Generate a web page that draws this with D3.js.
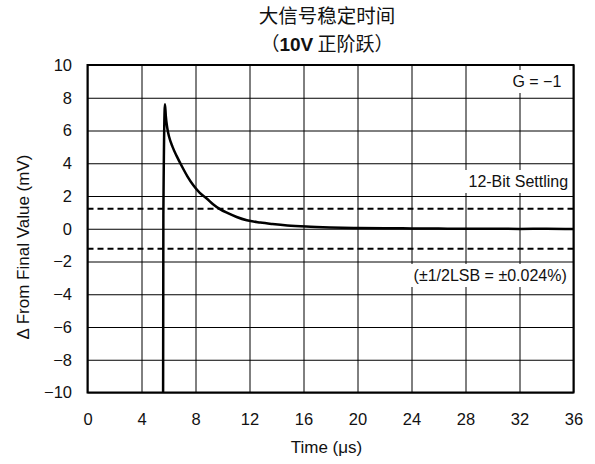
<!DOCTYPE html>
<html>
<head>
<meta charset="utf-8">
<script src="https://cdn.jsdelivr.net/npm/d3@7"></script>
<style>
  html, body { margin: 0; padding: 0; background: #fff; }
  svg { display: block; }
  text { font-family: "Liberation Sans", Arial, Helvetica, sans-serif; fill: #111; }
  .cjk { font-family: "Noto Sans CJK SC", "Liberation Sans", sans-serif; }
</style>
</head>
<body>
<script>
// ---- data ----
const titleLine1 = "大信号稳定时间";
const titleLine2 = ["（", "10V", " 正阶跃）"];
const xLabel = "Time (μs)";
const yLabel = "Δ From Final Value (mV)";
const xTicks = [0, 4, 8, 12, 16, 20, 24, 28, 32, 36];
const yTicks = [-10, -8, -6, -4, -2, 0, 2, 4, 6, 8, 10];
const timeUs = [5.6, 5.62, 5.74, 5.8, 5.9, 6.05, 6.3, 6.6, 7.0, 7.4, 7.84, 8.3, 8.83, 9.3, 9.81, 10.4, 11.05, 11.8, 12.8, 13.7, 14.8, 16.2, 18, 20, 22, 24, 26, 28, 30, 32, 34, 36];
const deltaMv = [-10, 0.8, 7.6, 6.9, 6.2, 5.6, 5.0, 4.45, 3.8, 3.2, 2.65, 2.2, 1.85, 1.5, 1.2, 0.95, 0.72, 0.52, 0.38, 0.29, 0.2, 0.13, 0.08, 0.05, 0.03, 0.02, 0.01, 0.0, 0.0, -0.01, 0.0, -0.02];
const settleLimits = [1.22, -1.22];
const annoGain = "G = −1";
const annoSettle = "12-Bit Settling";
const annoLsb = "(±1/2LSB = ±0.024%)";

// ---- layout ----
const W = 595, H = 464;
const m = { left: 87.5, right: 21.5, top: 65, bottom: 71.5 };
const iw = W - m.left - m.right, ih = H - m.top - m.bottom;

const svg = d3.select("body").append("svg").attr("width", W).attr("height", H);
const g = svg.append("g").attr("transform", `translate(${m.left},${m.top})`);

const x = d3.scaleLinear().domain([0, 36]).range([0, iw]);
const y = d3.scaleLinear().domain([-10, 10]).range([ih, 0]);

// grid
const gx = g.append("g").attr("transform", `translate(0,${ih})`)
  .call(d3.axisBottom(x).tickValues(xTicks).tickSize(-ih).tickPadding(0));
gx.select(".domain").remove();
gx.selectAll("line").attr("stroke", "#000").attr("stroke-width", 1);
gx.selectAll("text").attr("dy", null).attr("y", 32).attr("font-size", 16.5).style("fill", "#111");

const gy = g.append("g")
  .call(d3.axisLeft(y).tickValues(yTicks).tickSize(-iw).tickPadding(15.5));
gy.select(".domain").remove();
gy.selectAll("line").attr("stroke", "#000").attr("stroke-width", 1);
gy.selectAll("text").attr("font-size", 16.5).style("fill", "#111");

// annotation boxes (white background)
function anno(txt, xr, yb) {
  const t = g.append("text").attr("x", xr).attr("y", yb).attr("text-anchor", "end")
    .attr("font-size", 16).text(txt);
  const bb = t.node().getBBox();
  g.insert("rect", () => t.node())
    .attr("x", bb.x - 4).attr("y", bb.y - 3).attr("width", bb.width + 8).attr("height", bb.height + 6)
    .attr("fill", "#fff");
}
anno(annoGain, x(35.1), 22);
anno(annoSettle, x(35.6), 122);
anno(annoLsb, x(35.5), 216);

// settling limits
g.selectAll(".lim").data(settleLimits).join("line")
  .attr("x1", 0).attr("x2", iw)
  .attr("y1", d => y(d)).attr("y2", d => y(d))
  .attr("stroke", "#000").attr("stroke-width", 2).attr("stroke-dasharray", "6,4");

// curve
const pts = timeUs.map((t, i) => [t, deltaMv[i]]);
g.append("path").datum(pts)
  .attr("fill", "none").attr("stroke", "#000").attr("stroke-width", 2.5)
  .attr("stroke-linejoin", "round")
  .attr("d", d3.line().x(d => x(d[0])).y(d => y(d[1])).curve(d3.curveMonotoneX));

// frame
g.append("rect").attr("x", 0).attr("y", 0).attr("width", iw).attr("height", ih)
  .attr("fill", "none").attr("stroke", "#000").attr("stroke-width", 2);

// axis titles
svg.append("text").attr("x", m.left + iw / 2 - 4).attr("y", 453).attr("text-anchor", "middle")
  .attr("font-size", 17).text(xLabel);
svg.append("text").attr("transform", `translate(29,247) rotate(-90)`).attr("text-anchor", "middle")
  .attr("font-size", 17).text(yLabel);

// title
svg.append("text").attr("class", "cjk").attr("text-anchor", "middle")
  .attr("x", 327).attr("y", 23).attr("font-size", 19.5).text(titleLine1);
const t2 = svg.append("text").attr("class", "cjk").attr("text-anchor", "middle")
  .attr("x", 327).attr("y", 51).attr("font-size", 19);
t2.append("tspan").text(titleLine2[0]);
t2.append("tspan").attr("font-weight", "bold")
  .style("font-family", "'Liberation Sans', Arial, sans-serif").text(titleLine2[1]);
t2.append("tspan").text(titleLine2[2]);
</script>
</body>
</html>
